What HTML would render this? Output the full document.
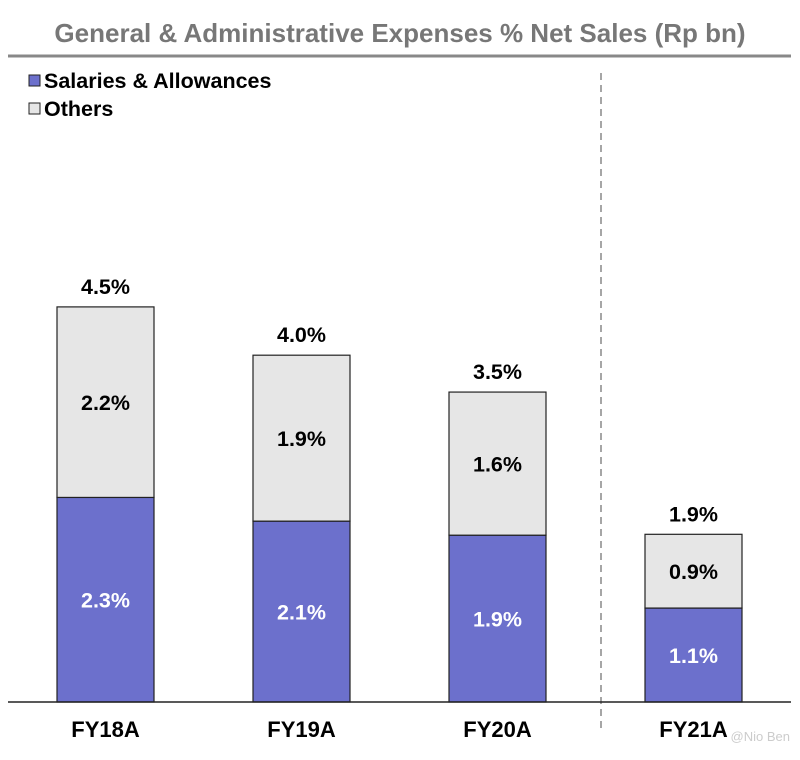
<!DOCTYPE html>
<html><head><meta charset="utf-8"><style>
body{margin:0;background:#fff;font-family:"Liberation Sans",Arial,sans-serif}
svg text{font-family:"Liberation Sans",Arial,sans-serif;font-weight:bold}
</style></head><body>
<svg width="800" height="755" viewBox="0 0 800 755">
<text x="400" y="42" text-anchor="middle" font-size="26" fill="#777">General &amp; Administrative Expenses % Net Sales (Rp bn)</text>
<line x1="8" y1="56" x2="791" y2="56" stroke="#888" stroke-width="3"/>
<g>
<rect x="29" y="75" width="11" height="11" fill="#6c70cc" stroke="#222" stroke-width="1"/>
<text x="44" y="88" font-size="21.5" fill="#000">Salaries &amp; Allowances</text>
<rect x="29" y="103" width="11" height="11" fill="#e6e6e6" stroke="#222" stroke-width="1"/>
<text x="44" y="116" font-size="21.5" fill="#000">Others</text>
</g>
<line x1="601" y1="73" x2="601" y2="732" stroke="#888" stroke-width="1.5" stroke-dasharray="7,5"/>
<g id="bars"></g>
<line x1="8" y1="702" x2="791" y2="702" stroke="#222" stroke-width="1.5"/>
<text x="790" y="741" text-anchor="end" font-size="13" fill="#ccc" style="font-weight:normal">@Nio Ben</text>
</svg>
<script>
const categories=["FY18A","FY19A","FY20A","FY21A"];
const salaries=[2.33,2.06,1.90,1.07];
const others=[2.17,1.89,1.63,0.84];
const salLabels=["2.3%","2.1%","1.9%","1.1%"];
const othLabels=["2.2%","1.9%","1.6%","0.9%"];
const totLabels=["4.5%","4.0%","3.5%","1.9%"];
const base=702,pxPer=87.8,bw=97;
function yS(v){return base-v*pxPer;}
function xC(i){return 105.5+i*196;}
const g=document.getElementById('bars');
const NS="http://www.w3.org/2000/svg";
function mk(t,a){const e=document.createElementNS(NS,t);for(const k in a)e.setAttribute(k,a[k]);g.appendChild(e);return e;}
categories.forEach((c,i)=>{
 const x=xC(i)-bw/2;
 const s=salaries[i],o=others[i];
 const r1=mk('rect',{x:x,y:yS(s),width:bw,height:base-yS(s),fill:'#6c70cc',stroke:'#222','stroke-width':1.2});
 
 
 const r2=mk('rect',{x:x,y:yS(s+o),width:bw,height:o*pxPer,fill:'#e6e6e6',stroke:'#222','stroke-width':1.2});
 
 
 const t1=mk('text',{x:xC(i),y:yS(s/2)+8,'text-anchor':'middle','font-size':21.5,fill:'#fff'});t1.textContent=salLabels[i];
 
 
 const t2=mk('text',{x:xC(i),y:yS(s+o/2)+8,'text-anchor':'middle','font-size':21.5,fill:'#000'});t2.textContent=othLabels[i];
 
 
 const t3=mk('text',{x:xC(i),y:yS(s+o)-13,'text-anchor':'middle','font-size':21.5,fill:'#000'});t3.textContent=totLabels[i];
 
 
 const t4=mk('text',{x:xC(i),y:737,'text-anchor':'middle','font-size':22,fill:'#000'});t4.textContent=c;
 
 
});
</script>
</body></html>
